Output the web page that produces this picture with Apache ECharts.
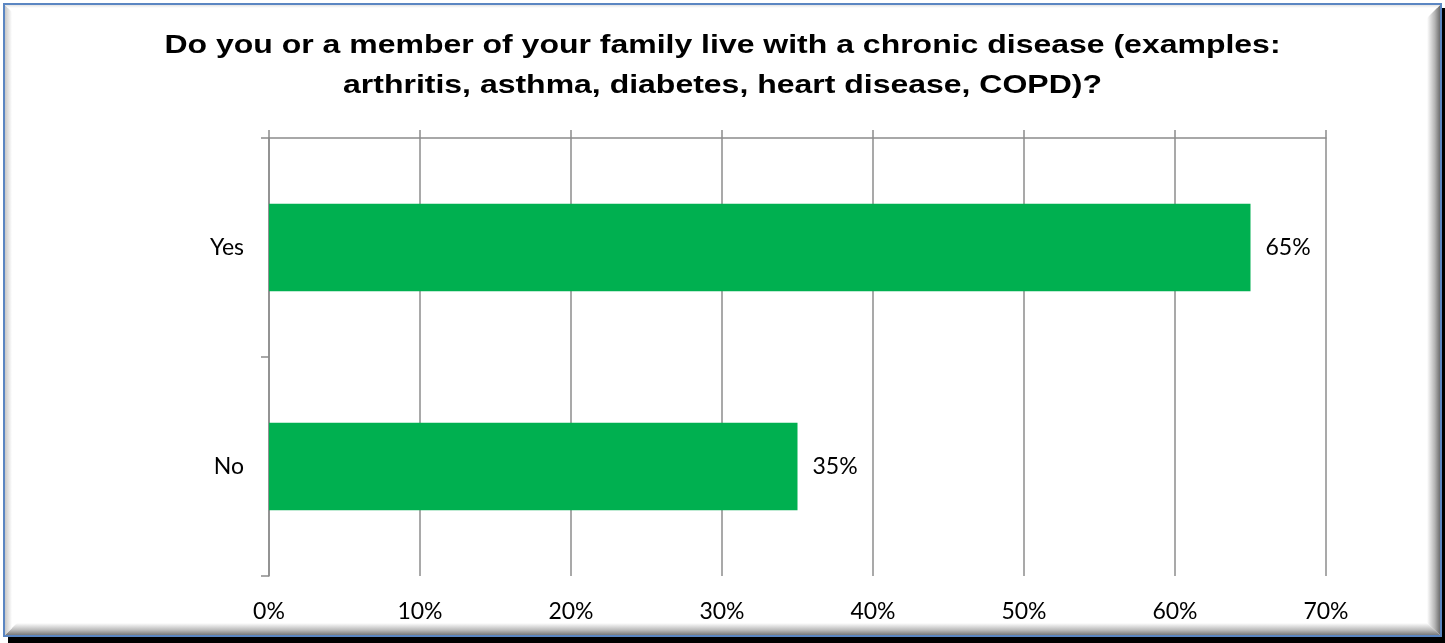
<!DOCTYPE html>
<html>
<head>
<meta charset="utf-8">
<script src="https://cdn.jsdelivr.net/npm/echarts@6/dist/echarts.min.js"></script>
<style>
  html, body { margin: 0; padding: 0; background: #ffffff; }
  #chart { width: 1445px; height: 643px; }
</style>
</head>
<body>
<div id="chart"></div>
<script>
// Survey answers and their shares (percent of respondents)
const categories = ['Yes', 'No'];
const shares = [65, 35];
const axisMax = 70;
const axisStep = 10;
const titleText = 'Do you or a member of your family live with a chronic disease (examples:\narthritis, asthma, diabetes, heart disease, COPD)?';

const W = 1445, H = 643;
const gridColor = '#8c8c8c';
const labelFont = 'Lato, "Open Sans", sans-serif';
const labelSize = 23;

const chart = echarts.init(document.getElementById('chart'), null, { renderer: 'canvas', width: W, height: H });

// Framed panel with a soft bevel and a dark drop shadow on the lower right
const frame = [
  { type: 'rect', z: -10, silent: true, shape: { x: 8, y: 8, width: W - 8, height: H - 8 }, style: { fill: '#000000' } },
  { type: 'rect', z: -9, silent: true, shape: { x: 4, y: 4, width: 1437, height: 632 }, style: { fill: '#ffffff', stroke: '#5b86c2', lineWidth: 2 } },
  { type: 'polygon', z: -8, silent: true,
    shape: { points: [[1440, 5], [1440, 635], [1427, 623], [1427, 18]] },
    style: { fill: new echarts.graphic.LinearGradient(0, 0, 1, 0, [{ offset: 0, color: '#ffffff' }, { offset: 0.6, color: '#b4b4b4' }, { offset: 1, color: '#6e6e6e' }]) } },
  { type: 'polygon', z: -8, silent: true,
    shape: { points: [[5, 635], [1440, 635], [1427, 623], [17, 623]] },
    style: { fill: new echarts.graphic.LinearGradient(0, 0, 0, 1, [{ offset: 0, color: '#ffffff' }, { offset: 0.6, color: '#b8b8b8' }, { offset: 1, color: '#7a7a7a' }]) } },
  { type: 'polygon', z: -8, silent: true,
    shape: { points: [[5, 5], [12, 12], [12, 628], [5, 635]] },
    style: { fill: new echarts.graphic.LinearGradient(0, 0, 1, 0, [{ offset: 0, color: '#c8c8c8' }, { offset: 1, color: '#ffffff' }]) } },
  { type: 'polygon', z: -8, silent: true,
    shape: { points: [[5, 5], [1440, 5], [1437, 8], [8, 8]] },
    style: { fill: new echarts.graphic.LinearGradient(0, 0, 0, 1, [{ offset: 0, color: '#e4e4e4' }, { offset: 1, color: '#ffffff' }]) } },
  // Two-line heading, set in a wide bold face
  { type: 'text', z: 5, silent: true, x: W / 2, y: 26, scaleX: 1.23, scaleY: 1,
    style: {
      text: titleText,
      font: 'bold 26px "Liberation Sans", Arial, sans-serif',
      fill: '#000000',
      align: 'center',
      verticalAlign: 'top',
      lineHeight: 40
    } }
];

const option = {
  animation: false,
  backgroundColor: 'transparent',
  graphic: frame,
  grid: { left: 269, right: 119, top: 138, bottom: 67, containLabel: false },
  xAxis: [
    {
      type: 'value',
      position: 'bottom',
      min: 0,
      max: axisMax,
      interval: axisStep,
      axisLine: { show: false },
      axisTick: { show: false },
      axisLabel: { formatter: '{value}%', margin: 24, fontFamily: labelFont, fontSize: labelSize, color: '#000000' },
      splitLine: { show: true, lineStyle: { color: gridColor, width: 1.5 } }
    },
    {
      type: 'value',
      position: 'top',
      min: 0,
      max: axisMax,
      interval: axisStep,
      axisLine: { show: true, lineStyle: { color: gridColor, width: 1.5 } },
      axisTick: { show: true, inside: false, length: 8, lineStyle: { color: gridColor, width: 1.5 } },
      axisLabel: { show: false },
      splitLine: { show: false }
    }
  ],
  yAxis: {
    type: 'category',
    data: categories,
    inverse: true,
    boundaryGap: true,
    axisLine: { show: true, lineStyle: { color: gridColor, width: 1.5 } },
    axisTick: { show: true, inside: false, length: 8, lineStyle: { color: gridColor, width: 1.5 } },
    axisLabel: { margin: 25, fontFamily: labelFont, fontSize: labelSize, color: '#000000' }
  },
  series: [
    {
      type: 'bar',
      xAxisIndex: 0,
      data: shares,
      barWidth: '40%',
      itemStyle: { color: '#00b050' },
      label: {
        show: true,
        position: 'right',
        distance: 15,
        formatter: p => p.value + '%',
        fontFamily: labelFont,
        fontSize: labelSize,
        color: '#000000'
      }
    }
  ]
};

chart.setOption(option);
</script>
</body>
</html>
